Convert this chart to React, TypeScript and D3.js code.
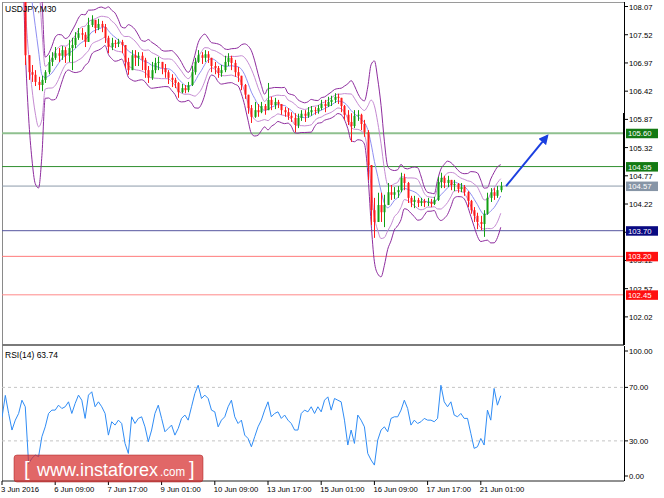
import * as d3 from 'd3';

// USDJPY M30, aggregated to 2-hour candles (3 Jun 01:00 ... 21 Jun 13:00)
const symbolLabel = 'USDJPY,M30';
const rsiLabel = 'RSI(14) 63.74';

const dateIdx = [0, 16, 32, 48, 64, 80, 96, 112, 128, 144];
const dateText = [
  '3 Jun 2016', '6 Jun 09:00', '7 Jun 17:00', '9 Jun 01:00', '10 Jun 09:00',
  '13 Jun 17:00', '15 Jun 01:00', '16 Jun 09:00', '17 Jun 17:00', '21 Jun 01:00',
];

const closes = [
  109.45, 109.52, 109.40, 109.48, 109.55, 109.50, 109.42, 107.12, 106.79, 106.74,
  106.60, 106.54, 106.64, 106.79, 106.99, 107.07, 107.16, 107.11, 107.22, 107.11,
  107.26, 107.32, 107.46, 107.55, 107.52, 107.38, 107.71, 107.81, 107.65, 107.73,
  107.67, 107.46, 107.28, 107.36, 107.34, 107.38, 107.32, 106.99, 106.83, 107.12,
  107.07, 107.11, 107.03, 106.83, 106.68, 106.83, 106.97, 106.99, 106.87, 106.79,
  106.68, 106.64, 106.58, 106.40, 106.48, 106.44, 106.54, 106.79, 106.99, 107.12,
  107.07, 107.14, 107.07, 106.91, 106.87, 106.77, 106.83, 106.99, 107.07, 106.97,
  106.79, 106.72, 106.54, 106.35, 106.09, 105.92, 106.05, 106.01, 106.13, 106.05,
  106.25, 106.15, 106.21, 106.17, 106.05, 106.01, 105.94, 105.90, 105.76, 105.90,
  105.98, 105.94, 106.01, 106.05, 106.03, 106.09, 106.17, 106.13, 106.21, 106.25,
  106.31, 106.29, 106.13, 105.96, 105.82, 105.74, 105.94, 105.96, 105.78, 105.62,
  104.98, 104.10, 103.87, 104.20, 104.06, 104.20, 104.45, 104.40, 104.45, 104.49,
  104.73, 104.63, 104.34, 104.26, 104.30, 104.24, 104.28, 104.24, 104.26, 104.22,
  104.30, 104.65, 104.73, 104.63, 104.69, 104.59, 104.61, 104.51, 104.55, 104.45,
  104.28, 104.10, 103.99, 103.87, 103.83, 104.03, 104.34, 104.45, 104.38, 104.49,
  104.57,
];

const highs = [
  109.56, 109.60, 109.52, 109.58, 109.62, 109.58, 109.52, 109.45, 107.12, 106.93,
  106.83, 106.70, 106.72, 106.83, 107.12, 107.18, 107.28, 107.26, 107.30, 107.28,
  107.42, 107.46, 107.57, 107.65, 107.65, 107.57, 107.85, 107.90, 107.81, 107.83,
  107.79, 107.73, 107.50, 107.46, 107.42, 107.44, 107.42, 107.32, 107.07, 107.22,
  107.22, 107.18, 107.18, 107.07, 106.91, 106.99, 107.07, 107.09, 106.99, 106.95,
  106.83, 106.75, 106.68, 106.60, 106.56, 106.54, 106.60, 106.91, 107.07, 107.22,
  107.18, 107.22, 107.20, 107.07, 106.99, 106.91, 106.93, 107.11, 107.16, 107.11,
  107.03, 106.89, 106.72, 106.56, 106.35, 106.15, 106.21, 106.17, 106.21, 106.17,
  106.58, 106.31, 106.29, 106.25, 106.17, 106.11, 106.09, 106.01, 105.99, 105.98,
  106.05, 106.05, 106.11, 106.13, 106.11, 106.15, 106.25, 106.25, 106.31, 106.33,
  106.38, 106.37, 106.29, 106.15, 106.05, 105.99, 106.05, 106.05, 105.98, 105.86,
  105.66, 104.98, 104.34, 104.44, 104.44, 104.40, 104.63, 104.59, 104.55, 104.57,
  104.83, 104.81, 104.65, 104.38, 104.38, 104.34, 104.34, 104.32, 104.34, 104.32,
  104.36, 104.75, 104.83, 104.77, 104.77, 104.69, 104.69, 104.63, 104.63, 104.59,
  104.47, 104.30, 104.16, 104.05, 103.99, 104.10, 104.44, 104.53, 104.53, 104.57,
  104.65,
];

const lows = [
  109.36, 109.40, 109.31, 109.38, 109.44, 109.40, 109.30, 106.93, 106.64, 106.60,
  106.52, 106.44, 106.42, 106.58, 106.75, 106.91, 107.03, 106.99, 107.03, 106.97,
  106.99, 106.83, 107.26, 107.42, 107.42, 107.28, 107.38, 107.67, 107.55, 107.61,
  107.57, 107.36, 107.16, 107.22, 107.26, 107.28, 107.16, 106.87, 106.74, 106.83,
  106.91, 106.91, 106.83, 106.68, 106.58, 106.64, 106.77, 106.83, 106.75, 106.68,
  106.56, 106.50, 106.48, 106.29, 106.38, 106.38, 106.40, 106.52, 106.74, 106.97,
  106.95, 106.99, 106.97, 106.79, 106.75, 106.68, 106.70, 106.79, 106.91, 106.83,
  106.70, 106.60, 106.44, 106.27, 105.98, 105.80, 105.90, 105.92, 105.99, 105.96,
  106.05, 106.05, 106.07, 106.09, 105.96, 105.92, 105.86, 105.82, 105.62, 105.70,
  105.84, 105.82, 105.90, 105.94, 105.96, 105.98, 106.05, 106.01, 106.11, 106.13,
  106.19, 106.17, 106.01, 105.86, 105.76, 105.43, 105.70, 105.84, 105.66, 105.53,
  104.69, 103.81, 103.56, 103.87, 103.87, 103.77, 104.20, 104.30, 104.32, 104.34,
  104.45, 104.49, 104.24, 104.16, 104.14, 104.16, 104.18, 104.16, 104.18, 104.16,
  104.20, 104.28, 104.53, 104.53, 104.55, 104.49, 104.47, 104.44, 104.45, 104.38,
  104.16, 104.03, 103.87, 103.73, 103.71, 103.58, 104.01, 104.26, 104.30, 104.34,
  104.45,
];

const rsiValues = [
  47.5, 64.0, 50.5, 38.1, 45.5, 50.5, 60.4, 55.5, 13.0, 17.0,
  19.4, 18.2, 33.1, 40.5, 50.5, 53.0, 53.0, 56.7, 54.2, 55.5,
  59.2, 50.5, 58.0, 64.2, 60.4, 46.8, 64.2, 66.7, 55.5, 59.2,
  55.5, 50.5, 34.3, 44.3, 41.8, 45.5, 43.0, 28.1, 20.6, 48.0,
  43.0, 46.8, 48.0, 40.5, 29.4, 38.1, 50.5, 56.7, 46.8, 36.8,
  39.3, 41.8, 34.3, 39.3, 46.8, 49.3, 45.5, 55.5, 65.4, 71.6,
  61.7, 64.2, 61.7, 53.0, 51.7, 40.5, 45.5, 48.0, 55.5, 60.4,
  48.0, 43.0, 45.5, 34.3, 31.8, 25.6, 33.1, 40.5, 45.5, 53.0,
  59.2, 48.0, 50.5, 51.7, 46.8, 49.3, 45.5, 43.0, 38.1, 38.1,
  50.5, 53.0, 51.7, 55.5, 50.5, 55.5, 51.7, 60.4, 62.9, 53.0,
  61.7, 60.4, 59.2, 45.5, 26.9, 38.1, 28.1, 49.3, 45.5, 40.5,
  20.6, 15.7, 11.9, 30.6, 38.1, 40.5, 36.8, 46.8, 48.0, 48.0,
  53.0, 60.4, 54.2, 41.8, 45.5, 43.0, 44.3, 46.8, 45.5, 45.5,
  44.3, 46.8, 71.6, 59.2, 55.5, 59.2, 49.3, 48.0, 50.5, 46.8,
  46.8, 35.6, 24.4, 25.6, 31.8, 26.9, 53.0, 45.5, 69.2, 56.7,
  63.74,
];

const priceTicks = [108.07, 107.52, 106.97, 106.42, 105.87, 105.32, 104.77, 104.22, 103.67, 103.12, 102.57, 102.02];
const rsiTicks = [100, 70, 30, 0];
const rsiLevels = [70, 30];

const levels = [105.60, 104.95, 104.57, 103.70, 103.20, 102.45];
const levelLine = ['#8fc08f', '#2f8f2f', '#8c9aab', '#55559f', '#ff7a7a', '#ff8a8a'];
const levelWidth = [2, 1, 1, 1, 1, 1];
const levelBox = ['#137a13', '#137a13', '#8795a6', '#0a0a82', '#ff1010', '#ff1010'];

// forecast arrow: [candle index, price]
const arrowFrom = [151.6, 104.57];
const arrowTo = [164, 105.55];

const FONT = '"Liberation Sans", Arial, sans-serif';
const UP = '#12a012';
const DOWN = '#ff1a1a';

// Bollinger bands on the 2h candles; spread measured over close/high/low
// so the intrabar movement of the M30 bars is kept in the width
function bollinger(period: number, dev: number) {
  const out: { i: number; m: number; up: number; dn: number }[] = [];
  for (let i = period - 1; i < closes.length; i++) {
    const a = i - period + 1;
    const w = closes.slice(a, i + 1);
    const m = d3.mean(w) as number;
    const all = w.concat(highs.slice(a, i + 1), lows.slice(a, i + 1));
    const sd = Math.sqrt(d3.mean(all, (v) => (v - m) * (v - m)) as number);
    out.push({ i, m, up: m + dev * sd, dn: m - dev * sd });
  }
  return out;
}

export default function App() {
  const x = d3.scaleLinear().domain([0, 150]).range([2, 500.75]);
  const y = d3.scaleLinear().domain([101.472, 108.158]).range([345, 2]);
  const yr = d3.scaleLinear().domain([0, 100]).range([481, 347.25]);

  const outer = bollinger(6, 2.35);
  const inner = bollinger(6, 1.3);
  type B = { i: number; m: number; up: number; dn: number };
  const lineOf = (k: 'm' | 'up' | 'dn') =>
    d3.line<B>().x((d) => x(d.i)).y((d) => y(d[k])).curve(d3.curveMonotoneX);

  const rsiLine = d3
    .line<number>()
    .x((_, i) => x(i))
    .y((d) => yr(d));

  const ax = 624;

  return (
    <svg
      width={664}
      height={498}
      style={{ position: 'absolute', left: 0, top: 0, background: '#fff' }}
      fontFamily={FONT}
    >
      <defs>
        <clipPath id="main">
          <rect x={2} y={2} width={ax - 2} height={343} />
        </clipPath>
        <clipPath id="sub">
          <rect x={2} y={346} width={ax - 2} height={135} />
        </clipPath>
        <marker id="head" viewBox="0 0 10 10" refX="8" refY="5" markerWidth="5" markerHeight="5" orient="auto">
          <path d="M0,0 L10,5 L0,10 z" fill="#1b3fe0" />
        </marker>
      </defs>

      {/* frame */}
      <line x1={2} x2={ax} y1={2.5} y2={2.5} stroke="#9a9a9a" />
      <line x1={2.5} x2={2.5} y1={2} y2={481} stroke="#8a8a8a" />
      <line x1={2} x2={ax} y1={345} y2={345} stroke="#7a7a7a" strokeWidth={2} />
      <line x1={2} x2={ax} y1={481} y2={481} stroke="#222" />

      {/* main panel */}
      <g clipPath="url(#main)">
        {levels.map((p, k) => (
          <line key={p} x1={2} x2={ax} y1={y(p)} y2={y(p)} stroke={levelLine[k]} strokeWidth={levelWidth[k]} />
        ))}

        <path d={lineOf('up')(outer) || ''} fill="none" stroke="#8e2c9e" strokeWidth={1} />
        <path d={lineOf('dn')(outer) || ''} fill="none" stroke="#8e2c9e" strokeWidth={1} />
        <path d={lineOf('up')(inner) || ''} fill="none" stroke="#c58ad2" strokeWidth={1} />
        <path d={lineOf('dn')(inner) || ''} fill="none" stroke="#c58ad2" strokeWidth={1} />
        <path d={lineOf('m')(outer) || ''} fill="none" stroke="#8f8ff2" strokeWidth={1} />

        {closes.map((c, i) => {
          const o = i > 0 ? closes[i - 1] : c;
          const col = c >= o ? UP : DOWN;
          const cx = Math.round(x(i)) + 0.5;
          const top = y(Math.max(o, c));
          const h = Math.max(1, Math.abs(y(o) - y(c)));
          return (
            <g key={i}>
              <line x1={cx} x2={cx} y1={y(highs[i])} y2={y(lows[i])} stroke={col} strokeWidth={1} />
              <rect x={cx - 1} y={top} width={2} height={h} fill={col} />
            </g>
          );
        })}

        <line
          x1={x(arrowFrom[0])}
          y1={y(arrowFrom[1])}
          x2={x(arrowTo[0])}
          y2={y(arrowTo[1])}
          stroke="#1b3fe0"
          strokeWidth={2}
          markerEnd="url(#head)"
        />
      </g>

      <text x={5} y={12} fontSize={8.5} fill="#000">{symbolLabel}</text>

      {/* price axis */}
      <line x1={ax + 0.5} x2={ax + 0.5} y1={2} y2={113} stroke="#000" />
      <line x1={ax} x2={ax} y1={113} y2={345} stroke="#000" strokeWidth={2} />
      {priceTicks.map((p) => (
        <g key={p}>
          <line x1={ax} x2={ax + 4} y1={y(p)} y2={y(p)} stroke="#000" />
          <text x={ax + 5} y={y(p) + 3} fontSize={7.7} fill="#000">{p.toFixed(2)}</text>
        </g>
      ))}
      {levels.map((p, k) => (
        <g key={'b' + p}>
          <rect x={ax + 2} y={y(p) - 4.5} width={32} height={9.5} fill={levelBox[k]} />
          <text x={ax + 4} y={y(p) + 3} fontSize={7.7} fill="#fff">{p.toFixed(2)}</text>
        </g>
      ))}

      {/* RSI panel */}
      {rsiLevels.map((v) => (
        <line key={v} x1={2} x2={ax} y1={yr(v)} y2={yr(v)} stroke="#c4c4c4" strokeDasharray="3,3" />
      ))}
      <g clipPath="url(#sub)">
        <path d={rsiLine(rsiValues) || ''} fill="none" stroke="#2f8cf5" strokeWidth={1} />
      </g>
      <text x={5} y={357.5} fontSize={8.5} fill="#000">{rsiLabel}</text>
      <line x1={ax + 0.5} x2={ax + 0.5} y1={346} y2={481} stroke="#000" />
      {rsiTicks.map((v) => {
        const ty = Math.min(476, Math.max(351, yr(v)));
        return (
          <g key={v}>
            <line x1={ax} x2={ax + 4} y1={ty} y2={ty} stroke="#000" />
            <text x={ax + 5} y={ty + 3} fontSize={7.7} fill="#000">{v.toFixed(2)}</text>
          </g>
        );
      })}

      {/* time axis */}
      {dateIdx.map((i, k) => (
        <g key={i}>
          <line x1={x(i)} x2={x(i)} y1={481} y2={485} stroke="#000" />
          <text x={x(i) - 1} y={492} fontSize={7.7} fill="#000">{dateText[k]}</text>
        </g>
      ))}

      {/* watermark */}
      <g>
        <rect x={14} y={455} width={189} height={27} rx={3} fill="rgba(214,44,44,0.72)" stroke="rgba(170,30,30,0.5)" />
        <text x={24} y={476} fontSize={20} fill="#fff" fontWeight={300}>[</text>
        <text x={37} y={476} fontSize={18} fill="#fff" textLength={121} lengthAdjust="spacingAndGlyphs">
          www.instaforex
        </text>
        <text x={160} y={476} fontSize={12.5} fill="#fff" textLength={25} lengthAdjust="spacingAndGlyphs">
          .com
        </text>
        <text x={189} y={476} fontSize={20} fill="#fff" fontWeight={300}>]</text>
      </g>
    </svg>
  );
}
